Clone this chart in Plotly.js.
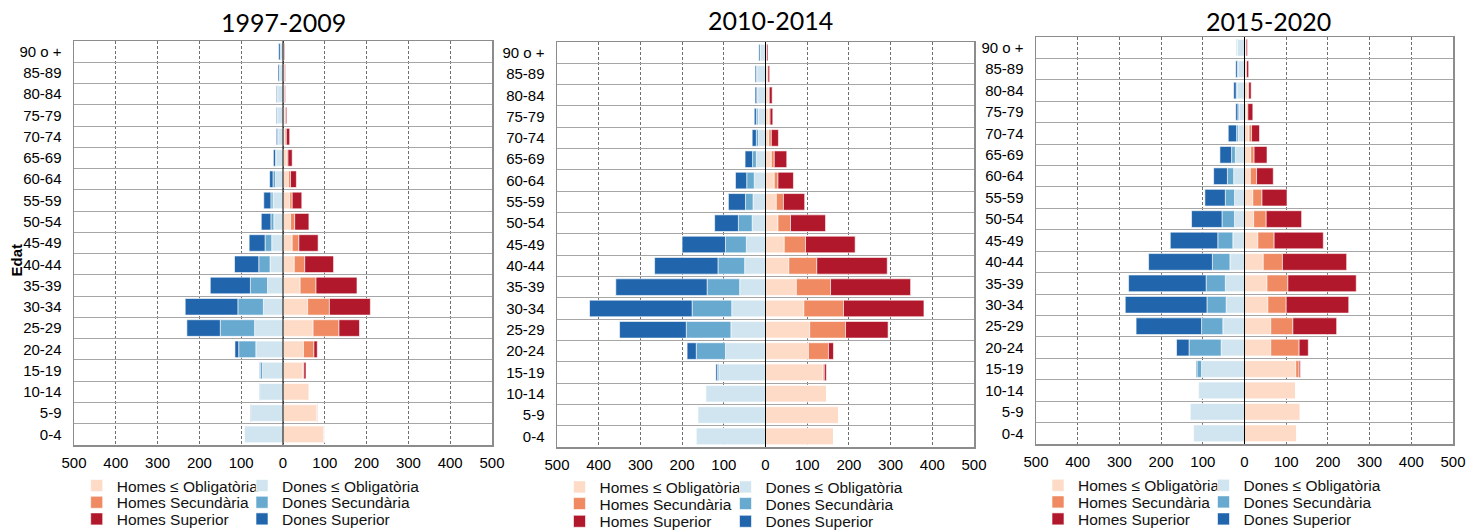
<!DOCTYPE html>
<html>
<head>
<meta charset="utf-8">
<script src="https://cdn.plot.ly/plotly-3.0.1.min.js"></script>
<style>html,body{margin:0;padding:0;background:#fff;}#chart{width:1484px;height:531px;}</style>
</head>
<body>
<div id="chart"></div>
<script>
// Age groups, bottom to top
const ageGroups = ["0-4","5-9","10-14","15-19","20-24","25-29","30-34","35-39","40-44","45-49","50-54","55-59","60-64","65-69","70-74","75-79","80-84","85-89","90 o +"];
const periods = ["1997-2009","2010-2014","2015-2020"];
const seriesNames = ["≤ Obligatòria","Secundària","Superior"];

// ---- 1997-2009 ----
const p1HomesObl = [97,81,62,48,49,72,59,41,27,22,18,16,13,9,5,4,3,3,1];
const p1HomesSec = [0,1,1.5,2,25,62,52,38,25,16,10,6,5,3,3,2,1,1,1];
const p1HomesSup = [1.5,1.5,0,5,8,49,98,98,69,46,34,23,14,10,8,3,2,2,2];
const p1DonesObl = [92,76,56,49,65,68,47,37,31,27,22,24,18,16,11,13,13,8,6];
const p1DonesSec = [0,0,1.5,5,41,82,61,41,27,16,7,5,6,2,2,1,1,1,0.5];
const p1DonesSup = [0,1.5,0,2,9,80,126,96,58,38,23,17,8,5,3,2,2,3,4];

// ---- 2010-2014 ----
const p2HomesObl = [163,176,147,138,103,106,92,74,56,45,30,26,21,14,8,8,7,4,2];
const p2HomesSec = [0,0,0,3,48,86,95,82,67,51,30,17,9,7,6,3,2,2,1];
const p2HomesSup = [0,0,0,5,12,102,193,192,169,119,84,51,37,30,17,6.5,7,4,3];
const p2DonesObl = [166,162,143,112,96,83,81,62,50,46,32,30,27,22,17,18,19,21,12];
const p2DonesSec = [0,0,0,3,70,107,95,78,64,50,33,18,18,9,5,4,2,1,1];
const p2DonesSup = [0,0,0,4,22,160,246,219,152,104,57,41,27,18,10,5,4,3,3];

// ---- 2015-2020 ----
const p3HomesObl = [126,134,123,123,63,63,56,54,45,32,22,20,14,15,11,6,8,3,3];
const p3HomesSec = [0,0,0,8,68,53,44,50,46,39,30,22,15,8,6,2,2,2,1];
const p3HomesSup = [0,0,0,3,22,105,150,164,154,118,85,60,40,31,19,12,6,5,3];
const p3DonesObl = [122,130,110,103,56,52,44,46,35,28,24,24,26,22,15,13,18,16,17];
const p3DonesSec = [0,0,0,11,77,51,46,46,42,36,30,22,15,9,4,3,2,1,1];
const p3DonesSup = [0,0,0,2,30,157,196,186,153,114,73,49,33,28,20,5,6,4,1];

const tickVals = [-500,-400,-300,-200,-100,0,100,200,300,400,500];
const tickText = ["500","400","300","200","100","0","100","200","300","400","500"];

const homesColors = ["#fddbc7","#ef8a62","#b2182b"];
const donesColors = ["#d1e5f0","#67a9cf","#2166ac"];

const panels = [
  {homes:[p1HomesObl,p1HomesSec,p1HomesSup], dones:[p1DonesObl,p1DonesSec,p1DonesSup]},
  {homes:[p2HomesObl,p2HomesSec,p2HomesSup], dones:[p2DonesObl,p2DonesSec,p2DonesSup]},
  {homes:[p3HomesObl,p3HomesSec,p3HomesSup], dones:[p3DonesObl,p3DonesSec,p3DonesSup]}
];

// Layout geometry (pixels)
const W = 1484, H = 531;
const geo = [
  {x0:74, x1:492, yTop:41, yBot:445, title:[283.5,22], legRows:[486,502.7,519.3], legHomesText:116.7, legDonesText:282},
  {x0:557, x1:974, yTop:42, yBot:447, title:[770,20.5], legRows:[487.3,504,521.7], legHomesText:599.5, legDonesText:765.5},
  {x0:1036, x1:1453, yTop:37, yBot:444, title:[1268.5,21.5], legRows:[485.7,502.3,519.3], legHomesText:1078, legDonesText:1243.5}
];

const tickFont = {family:"Liberation Sans, Arial, sans-serif", size:15, color:"#000"};
const legFont = {family:"Liberation Sans, Arial, sans-serif", size:15.5, color:"#111"};

const traces = [];
const layout = {
  width:W, height:H,
  margin:{l:0,r:0,t:0,b:0,autoexpand:false},
  paper_bgcolor:"#fff", plot_bgcolor:"#fff",
  barmode:"relative", bargap:0.22,
  showlegend:true,
  annotations:[], shapes:[]
};

let legendIdx = 0;
panels.forEach((p, i) => {
  const sfx = i === 0 ? "" : String(i+1);
  const xa = "x" + sfx, ya = "y" + sfx;
  const g = geo[i];
  // Homes (right)
  p.homes.forEach((vals, k) => {
    legendIdx++;
    const lid = legendIdx === 1 ? "legend" : "legend" + legendIdx;
    traces.push({
      type:"bar", orientation:"h", name:"Homes " + seriesNames[k],
      y:ageGroups, x:vals, xaxis:xa, yaxis:ya,
      marker:{color:homesColors[k], line:{color:"#ffffff", width:0.6}},
      legend:lid, hoverinfo:"x+y+name"
    });
    layout[lid] = {
      x:(g.legHomesText - 40)/W, xanchor:"left",
      y:1 - g.legRows[k]/H, yanchor:"middle",
      bgcolor:"rgba(0,0,0,0)", borderwidth:0, font:legFont,
      orientation:"v", tracegroupgap:0
    };
  });
  // Dones (left, negative)
  p.dones.forEach((vals, k) => {
    legendIdx++;
    const lid = "legend" + legendIdx;
    traces.push({
      type:"bar", orientation:"h", name:"Dones " + seriesNames[k],
      y:ageGroups, x:vals.map(v => -v), customdata:vals, xaxis:xa, yaxis:ya,
      marker:{color:donesColors[k], line:{color:"#ffffff", width:0.6}},
      legend:lid, hovertemplate:"%{customdata}<extra>%{fullData.name}</extra>"
    });
    layout[lid] = {
      x:(g.legDonesText - 40)/W, xanchor:"left",
      y:1 - g.legRows[k]/H, yanchor:"middle",
      bgcolor:"rgba(0,0,0,0)", borderwidth:0, font:legFont,
      orientation:"v", tracegroupgap:0
    };
  });

  layout["xaxis" + sfx] = {
    domain:[g.x0/W, g.x1/W], anchor:ya,
    range:[-500,500], tickmode:"array", tickvals:tickVals, ticktext:tickText,
    showgrid:true, gridcolor:"#6e6e6e", gridwidth:1, griddash:"3px,2px",
    zeroline:false, showline:true, mirror:true, linecolor:"#8c8c8c", linewidth:1.5,
    ticks:"", ticklabelstandoff:3, tickfont:tickFont, fixedrange:true
  };
  layout["yaxis" + sfx] = {
    domain:[1 - g.yBot/H, 1 - g.yTop/H], anchor:xa,
    type:"category", categoryorder:"array", categoryarray:ageGroups,
    tickson:"boundaries", showgrid:true, gridcolor:"#a6a6a6", gridwidth:1,
    showline:true, mirror:true, linecolor:"#8c8c8c", linewidth:1.5,
    ticks:"", ticklabelstandoff:8, tickfont:tickFont, fixedrange:true
  };
  // Panel title
  layout.annotations.push({
    text:periods[i], xref:"paper", yref:"paper",
    x:g.title[0]/W, y:1 - g.title[1]/H, xanchor:"center", yanchor:"middle",
    showarrow:false, font:{family:"Lato, Carlito, Calibri, sans-serif", size:25, color:"#000"}
  });
  // Zero line drawn over the bars
  layout.shapes.push({
    type:"line", xref:xa, yref:ya + " domain", x0:0, x1:0, y0:0, y1:1,
    line:{color:"#000", width:1}, layer:"above"
  });
});

// Y axis title "Edat" (first panel only)
layout.annotations.push({
  text:"<b>Edat</b>", xref:"paper", yref:"paper",
  x:15.5/W, y:1 - 260/H, xanchor:"center", yanchor:"middle", textangle:-90,
  showarrow:false, font:{family:"Liberation Sans Narrow, Liberation Sans, Arial, sans-serif", size:15, color:"#000"}
});

Plotly.newPlot("chart", traces, layout, {displayModeBar:false, staticPlot:true});
</script>
</body>
</html>
